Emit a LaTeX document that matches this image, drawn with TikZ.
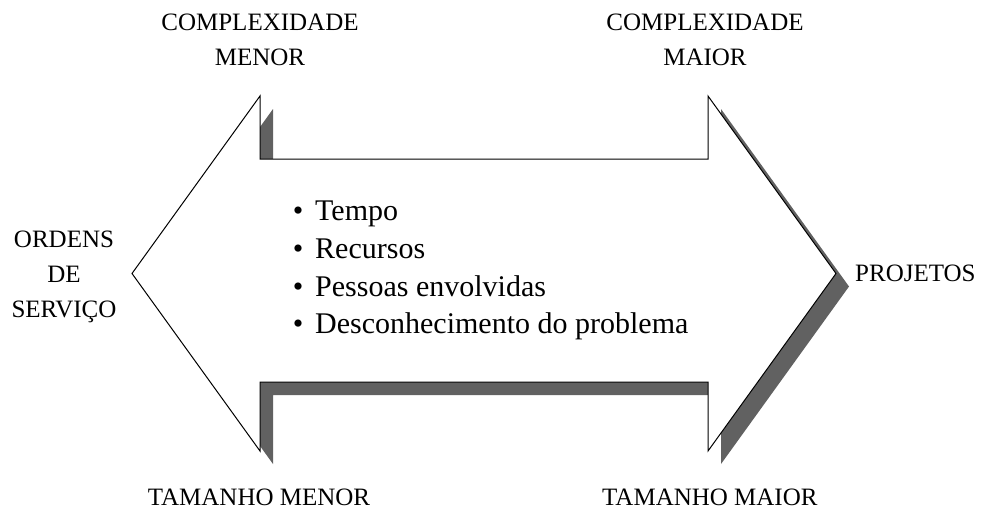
\documentclass[tikz,border=0pt]{standalone}
\usepackage{fontspec}
\setmainfont{Liberation Serif}
\begin{document}
\begin{tikzpicture}[x=1pt,y=-1pt,
  lbl/.style={font=\fontsize{25}{35}\selectfont, align=center, inner sep=0pt},
  item/.style={font=\fontsize{30}{36}\selectfont, anchor=base west, inner sep=0pt},
  bul/.style={font=\fontsize{30}{36}\selectfont, anchor=base, inner sep=0pt},
  outline/.style={fill=white, draw=black, line width=1pt, line join=miter},
  shadowfill/.style={fill=black!62}]
\useasboundingbox (0,0) rectangle (984,511);
% arrow geometry
\coordinate (L)  at (132,273.5);
\coordinate (LT) at (260,96);
\coordinate (ST) at (260,159);
\coordinate (STR) at (708,159);
\coordinate (RT) at (708,96);
\coordinate (R)  at (836,273.5);
\coordinate (RB) at (708,451);
\coordinate (SBR) at (708,382);
\coordinate (SB) at (260,382);
\coordinate (LB) at (260,451);
% shadow
\fill[shadowfill] ([shift={(13,13)}]L) -- ([shift={(13,13)}]LT) -- ([shift={(13,13)}]ST)
  -- ([shift={(13,13)}]STR) -- ([shift={(13,13)}]RT) -- ([shift={(13,13)}]R)
  -- ([shift={(13,13)}]RB) -- ([shift={(13,13)}]SBR) -- ([shift={(13,13)}]SB)
  -- ([shift={(13,13)}]LB) -- cycle;
% arrow
\draw[outline] (L) -- (LT) -- (ST) -- (STR) -- (RT) -- (R) -- (RB) -- (SBR) -- (SB) -- (LB) -- cycle;
% labels
\node[lbl] (cmenor) at (260,40) {COMPLEXIDADE\\MENOR};
\node[lbl] (cmaior) at (705,40) {COMPLEXIDADE\\MAIOR};
\node[lbl] (os) at (64,277) {ORDENS\\DE\\SERVIÇO};
\node[lbl, anchor=west] (proj) at (855,273) {PROJETOS};
\node[lbl] (tmenor) at (259,497) {TAMANHO MENOR};
\node[lbl, anchor=west] (tmaior) at (602,497) {TAMANHO MAIOR};
% list
\node[bul] (b1) at (298,220) {•};
\node[item] (i1) at (315,220) {Tempo};
\node[bul] (b2) at (298,258) {•};
\node[item] (i2) at (315,258) {Recursos};
\node[bul] (b3) at (298,296) {•};
\node[item] (i3) at (315,296) {Pessoas envolvidas};
\node[bul] (b4) at (298,333) {•};
\node[item] (i4) at (315,333) {Desconhecimento do problema};
\end{tikzpicture}
\end{document}
